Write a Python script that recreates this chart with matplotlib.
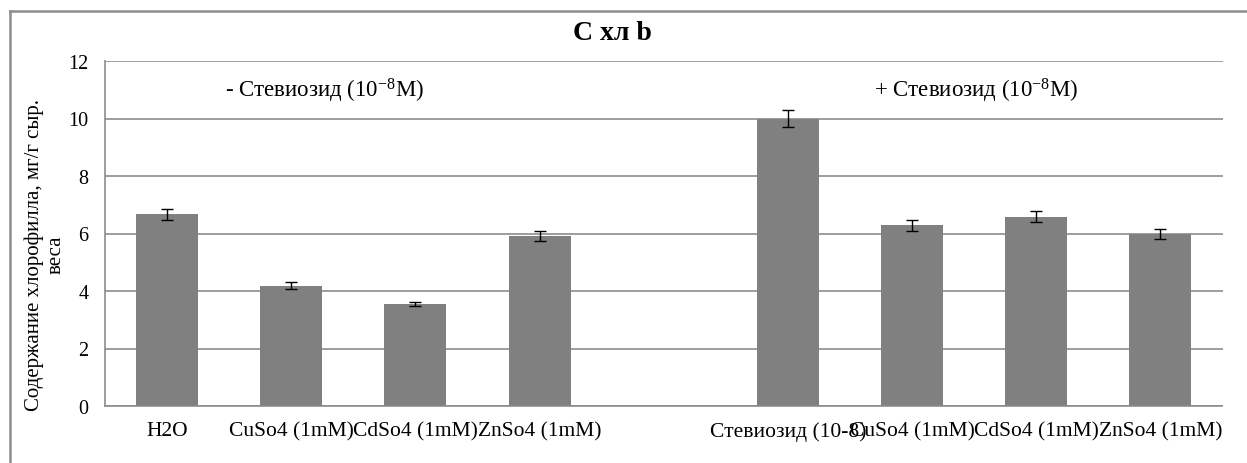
import matplotlib
matplotlib.use("Agg")
import matplotlib.pyplot as plt
from matplotlib.lines import Line2D

plt.rcParams['font.family'] = ['Liberation Serif', 'DejaVu Serif']
plt.rcParams['mathtext.fontset'] = 'custom'
plt.rcParams['mathtext.rm'] = 'Liberation Serif'
plt.rcParams['mathtext.it'] = 'Liberation Serif'

categories = ["H2O", "CuSo4 (1mM)", "CdSo4 (1mM)", "ZnSo4 (1mM)", "",
              "Стевиозид (10-8)", "CuSo4 (1mM)", "CdSo4 (1mM)", "ZnSo4 (1mM)"]
values = [6.67, 4.19, 3.55, 5.92, None, 10.0, 6.28, 6.59, 5.99]
errors = [0.19, 0.13, 0.07, 0.18, None, 0.30, 0.18, 0.20, 0.18]
yticks = [0, 2, 4, 6, 8, 10, 12]
title = "С хл b"
ylabel = "Содержание хлорофилла, мг/г сыр.\nвеса"
group_labels = [r"- Стевиозид (10$^{-8}$M)", r"+ Стевиозид (10$^{-8}$M)"]

W, H = 1247, 464
fig = plt.figure(figsize=(W / 100, H / 100), dpi=100)
ax = fig.add_axes([105 / W, 1 - 407 / H, (1222.5 - 105) / W, (407 - 62) / H])

xs = [i for i, v in enumerate(values) if v is not None]
vs = [v for v in values if v is not None]
es = [e for e in errors if e is not None]

ax.set_axisbelow(True)
ax.bar(xs, vs, width=0.5, color='#808080', zorder=2)
ax.errorbar(xs, vs, yerr=es, fmt='none', ecolor='black', elinewidth=1,
            capsize=4.3, capthick=1, zorder=3)

ax.set_xlim(-0.5, len(categories) - 0.5)
ax.set_ylim(0, 12)
ax.set_yticks(yticks)
ax.set_xticks(range(len(categories)))
ax.set_xticklabels(categories, fontsize=15.5)
ax.tick_params(axis='y', length=0, pad=12, labelsize=14.5)
ax.tick_params(axis='x', length=0, pad=11)
ax.yaxis.grid(True, color='#8c8c8c', linewidth=1.2)
for s in ['top', 'right']:
    ax.spines[s].set_visible(False)
ax.spines['left'].set_color('#8c8c8c')
ax.spines['bottom'].set_color('#8c8c8c')
ax.spines['left'].set_linewidth(1.2)
ax.spines['bottom'].set_linewidth(1.2)

ax.text(1.27, 11.0, group_labels[0], fontsize=16.5, ha='center', va='center')
ax.text(6.52, 11.0, group_labels[1], fontsize=16.5, ha='center', va='center')

fig.text(612 / W, 1 - 33 / H, title, fontsize=20, fontweight='bold',
         ha='center', va='center')
fig.text(45 / W, 1 - 255 / H, ylabel, fontsize=15, rotation=90,
         ha='center', va='center', multialignment='center', linespacing=1.15)

# outer chart border
fig.add_artist(Line2D([10 / W, 1.0], [1 - 12 / H, 1 - 12 / H],
                      transform=fig.transFigure, color='#8c8c8c', lw=1.8))
fig.add_artist(Line2D([10 / W, 10 / W], [1 - 12 / H, 0.0],
                      transform=fig.transFigure, color='#8c8c8c', lw=1.8))

fig.savefig("out.png", dpi=100)
